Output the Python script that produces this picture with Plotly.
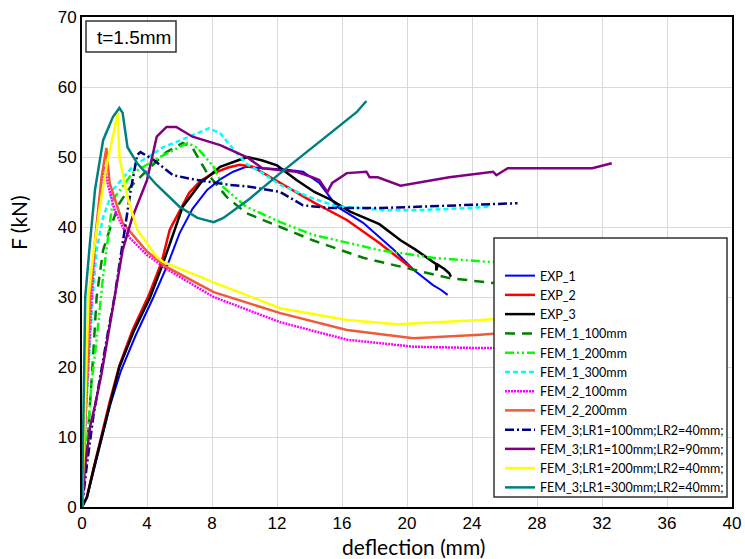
import plotly.graph_objects as go

# ---------------- data ----------------
exp1_x = [0, 0.3, 0.7, 1.2, 1.7, 2.4, 3.3, 4.4, 5.3, 6.0, 6.8, 7.7, 8.5, 9.3, 10.1, 11.1, 12.5, 13.6, 14.6, 15.7, 17.3, 19.2, 20.4, 21.6, 22.1, 22.5]
exp1_y = [0, 1.3, 5.0, 9.6, 14.3, 19.5, 24.5, 30.0, 34.8, 39.1, 42.6, 45.3, 46.8, 47.9, 48.6, 48.4, 48.2, 47.9, 46.3, 42.9, 40.6, 36.7, 33.9, 31.7, 31.0, 30.3]

exp2_x = [0, 0.3, 0.7, 1.2, 1.7, 2.3, 3.1, 4.1, 4.9, 5.4, 6.6, 7.3, 8.1, 9.0, 9.7, 10.5, 12.2, 14.2, 16.3, 18.3, 20.4]
exp2_y = [0, 1.4, 5.4, 10.2, 15.0, 20.2, 25.2, 30.2, 35.0, 39.6, 44.9, 46.6, 47.7, 48.5, 48.9, 48.6, 46.3, 43.6, 41.0, 37.7, 33.9]

exp3_x = [0, 0.3, 0.7, 1.2, 1.7, 2.3, 3.2, 4.2, 5.0, 5.6, 6.2, 7.3, 8.5, 9.7, 10.2, 11.1, 12.0, 13.2, 14.3, 15.3, 16.5, 18.3, 19.6, 20.5, 21.4, 21.8, 21.8, 21.9, 22.3, 22.6, 22.7]
exp3_y = [0, 1.4, 5.3, 10.0, 14.8, 20.0, 25.2, 30.0, 34.9, 39.0, 42.9, 46.3, 48.6, 49.6, 50.0, 49.5, 48.8, 46.7, 45.0, 43.9, 42.2, 40.4, 38.1, 36.8, 35.3, 34.7, 33.8, 34.6, 34.0, 33.4, 32.9]

fem1_100_x = [0, 0.3, 0.66, 0.9, 1.1, 1.3, 1.7, 2.3, 3.0, 4.0, 5.2, 6.2, 6.8, 7.7, 8.9, 10.1, 12.2, 14.2, 17.3, 20.4, 22.6, 25.3, 28.0]
fem1_100_y = [0, 8.0, 20.6, 30.0, 33.4, 36.7, 39.6, 43.4, 45.8, 48.1, 50.7, 52.0, 51.3, 47.7, 44.3, 42.0, 40.0, 38.1, 35.6, 33.9, 32.7, 32.0, 31.6]

fem1_200_x = [0, 0.3, 0.6, 0.9, 1.3, 1.9, 3.1, 4.8, 6.5, 7.1, 8.1, 8.7, 10.1, 12.2, 14.2, 18.3, 21.6, 25.1, 28.0]
fem1_200_y = [0, 9.0, 18.0, 23.9, 33.0, 43.9, 47.7, 50.0, 52.0, 51.3, 48.6, 45.7, 42.9, 40.7, 38.9, 36.7, 35.6, 35.0, 34.8]

fem1_300_x = [0, 0.2, 0.66, 0.9, 1.3, 1.9, 3.1, 5.0, 6.6, 7.8, 8.5, 9.5, 10.2, 11.1, 12.2, 14.2, 15.7, 17.3, 18.5, 20.6, 22.8, 25.1]
fem1_300_y = [0, 12.0, 30.0, 36.7, 41.4, 45.3, 48.6, 51.4, 52.9, 54.1, 53.4, 50.6, 48.9, 47.7, 46.0, 44.1, 42.9, 42.7, 42.4, 42.4, 42.6, 42.9]

fem2_100_x = [0, 0.2, 0.6, 0.8, 1.1, 1.4, 1.6, 2.0, 2.5, 3.0, 4.0, 5.2, 8.1, 12.2, 16.3, 20.4, 24.5, 28.0]
fem2_100_y = [0, 12.0, 30.0, 37.7, 44.0, 48.6, 46.0, 42.5, 40.0, 38.3, 36.0, 34.0, 30.0, 26.4, 23.9, 22.9, 22.7, 22.7]

fem2_200_x = [0, 0.2, 0.5, 0.8, 1.2, 1.5, 1.7, 2.5, 4.0, 5.2, 8.1, 12.2, 16.3, 20.4, 24.5, 28.0]
fem2_200_y = [0, 12.0, 30.0, 38.0, 47.1, 51.3, 46.3, 40.6, 36.5, 34.3, 30.7, 27.7, 25.3, 24.1, 24.6, 25.2]

fem3_a_x = [0, 0.3, 0.7, 1.2, 1.6, 2.0, 2.5, 3.0, 3.4, 3.6, 4.4, 5.6, 7.1, 9.1, 10.2, 12.2, 13.6, 15.3, 18.3, 22.8, 26.8]
fem3_a_y = [0, 6.0, 13.0, 20.0, 25.0, 30.0, 37.7, 45.3, 50.3, 50.7, 49.6, 47.4, 46.7, 46.0, 45.8, 45.0, 43.1, 42.7, 42.7, 43.1, 43.4]

fem3_b_x = [0, 0.2, 0.5, 0.8, 1.2, 1.6, 2.1, 2.5, 3.1, 4.0, 4.6, 5.2, 5.8, 6.8, 8.5, 10.2, 11.1, 13.2, 14.2, 14.6, 15.1, 15.4, 16.3, 17.5, 17.7, 18.2, 19.6, 22.6, 25.3, 25.5, 26.2, 31.4, 32.6]
fem3_b_y = [0, 6.0, 11.5, 14.5, 19.0, 24.5, 31.0, 36.7, 41.4, 46.7, 52.9, 54.3, 54.3, 52.9, 51.7, 49.9, 48.4, 47.9, 47.1, 46.7, 45.0, 46.3, 47.7, 47.9, 47.1, 47.1, 45.9, 47.1, 47.9, 47.4, 48.4, 48.4, 49.1]

fem3_c_x = [0, 0.2, 0.4, 0.7, 1.1, 1.5, 2.2, 2.3, 2.8, 3.4, 4.6, 5.0, 8.1, 12.2, 16.3, 19.4, 24.5, 28.0]
fem3_c_y = [0, 15.0, 30.0, 36.3, 42.9, 48.6, 56.3, 50.0, 44.3, 39.6, 35.7, 35.0, 32.1, 28.4, 26.7, 26.1, 26.7, 27.3]

fem3_d_x = [0, 0.1, 0.2, 0.5, 0.8, 1.3, 1.9, 2.3, 2.5, 2.8, 3.4, 4.6, 6.0, 7.1, 8.1, 8.7, 9.5, 10.3, 12.2, 14.2, 16.9, 17.5]
fem3_d_y = [0, 15.0, 30.0, 38.0, 45.3, 52.4, 55.7, 57.0, 56.3, 51.4, 49.1, 46.0, 42.9, 41.3, 40.7, 41.3, 42.7, 44.0, 47.7, 51.4, 56.4, 58.0]

series_names = ["EXP_1", "EXP_2", "EXP_3", "FEM_1_100mm", "FEM_1_200mm", "FEM_1_300mm",
                "FEM_2_100mm", "FEM_2_200mm",
                "FEM_3;LR1=100mm;LR2=40mm;", "FEM_3;LR1=100mm;LR2=90mm;",
                "FEM_3;LR1=200mm;LR2=40mm;", "FEM_3;LR1=300mm;LR2=40mm;"]

x_ticks = [0, 4, 8, 12, 16, 20, 24, 28, 32, 36, 40]
y_ticks = [0, 10, 20, 30, 40, 50, 60, 70]

# ---------------- styles ----------------
styles = [
    dict(color="#0000FF", width=2, dash="solid"),
    dict(color="#FF0000", width=2.5, dash="solid"),
    dict(color="#000000", width=2.5, dash="solid"),
    dict(color="#008000", width=2.5, dash="10px,7px"),
    dict(color="#00FF00", width=2.5, dash="9px,3px,2px,3px,2px,3px"),
    dict(color="#00FFFF", width=2.5, dash="5px,3px"),
    dict(color="#FF00FF", width=2.5, dash="2px,1px"),
    dict(color="#EE5A3A", width=2.5, dash="solid"),
    dict(color="#000080", width=2.5, dash="9px,3px,2px,3px"),
    dict(color="#800080", width=2.5, dash="solid"),
    dict(color="#FFFF00", width=2.5, dash="solid"),
    dict(color="#008080", width=2.5, dash="solid"),
]

xs = [exp1_x, exp2_x, exp3_x, fem1_100_x, fem1_200_x, fem1_300_x, fem2_100_x, fem2_200_x,
      fem3_a_x, fem3_b_x, fem3_c_x, fem3_d_x]
ys = [exp1_y, exp2_y, exp3_y, fem1_100_y, fem1_200_y, fem1_300_y, fem2_100_y, fem2_200_y,
      fem3_a_y, fem3_b_y, fem3_c_y, fem3_d_y]

fig = go.Figure()
for name, x, y, st in zip(series_names, xs, ys, styles):
    fig.add_trace(go.Scatter(x=x, y=y, mode="lines", name=name, line=st))

W, H = 745, 559
ml, mr, mt, mb = 82, 13, 17, 52
pw, ph = W - ml - mr, H - mt - mb


def px2paper_x(px):
    return (px - ml) / pw


def py2paper_y(py):
    return (H - mb - py) / ph


tick_font = dict(family="Liberation Sans, Arial, sans-serif", size=17, color="#000")
label_font = dict(family="Lato, Noto Sans, sans-serif", size=21, color="#000")

fig.update_layout(
    width=W, height=H,
    margin=dict(l=ml, r=mr, t=mt, b=mb, autoexpand=False),
    paper_bgcolor="white", plot_bgcolor="white",
    showlegend=True,
    legend=dict(
        x=px2paper_x(500), y=py2paper_y(261), xanchor="left", yanchor="top",
        bgcolor="rgba(0,0,0,0)", borderwidth=0,
        font=dict(family="Lato, Noto Sans, sans-serif", size=12.5, color="#000"),
        tracegroupgap=0,
    ),
    xaxis=dict(
        range=[0, 40], tickmode="array", tickvals=x_ticks,
        ticktext=[str(v) for v in x_ticks],
        showgrid=True, gridcolor="#D9D9D9", gridwidth=1,
        showline=True, linecolor="#000", linewidth=2, mirror=True,
        zeroline=False, tickfont=tick_font, ticks="", automargin=False,
    ),
    yaxis=dict(
        range=[0, 70], tickmode="array", tickvals=y_ticks,
        ticktext=[str(v) for v in y_ticks],
        showgrid=True, gridcolor="#D9D9D9", gridwidth=1,
        showline=True, linecolor="#000", linewidth=2, mirror=True,
        zeroline=False, tickfont=tick_font, ticks="", automargin=False,
    ),
    shapes=[
        dict(type="rect", xref="paper", yref="paper", layer="above",
             x0=px2paper_x(494), x1=px2paper_x(727),
             y0=py2paper_y(497), y1=py2paper_y(238),
             fillcolor="white", line=dict(color="#333", width=1.5)),
        dict(type="rect", xref="paper", yref="paper", layer="above",
             x0=px2paper_x(86), x1=px2paper_x(176),
             y0=py2paper_y(52), y1=py2paper_y(21),
             fillcolor="white", line=dict(color="#333", width=1.5)),
    ],
    annotations=[
        dict(text="t=1.5mm", xref="paper", yref="paper",
             x=px2paper_x(134), y=py2paper_y(37), xanchor="center", yanchor="middle",
             showarrow=False,
             font=dict(family="Liberation Sans, Arial, sans-serif", size=19, color="#000")),
        dict(text="deflection (mm)", xref="paper", yref="paper",
             x=px2paper_x(413), y=py2paper_y(546), xanchor="center", yanchor="middle",
             showarrow=False, font=label_font),
        dict(text="F (kN)", xref="paper", yref="paper", textangle=-90,
             x=px2paper_x(18), y=py2paper_y(223), xanchor="center", yanchor="middle",
             showarrow=False, font=label_font),
    ],
)

fig.write_html(
    "out.html",
    config={"displayModeBar": False},
    post_script="document.body.style.margin='0';document.body.style.overflow='hidden';",
)
